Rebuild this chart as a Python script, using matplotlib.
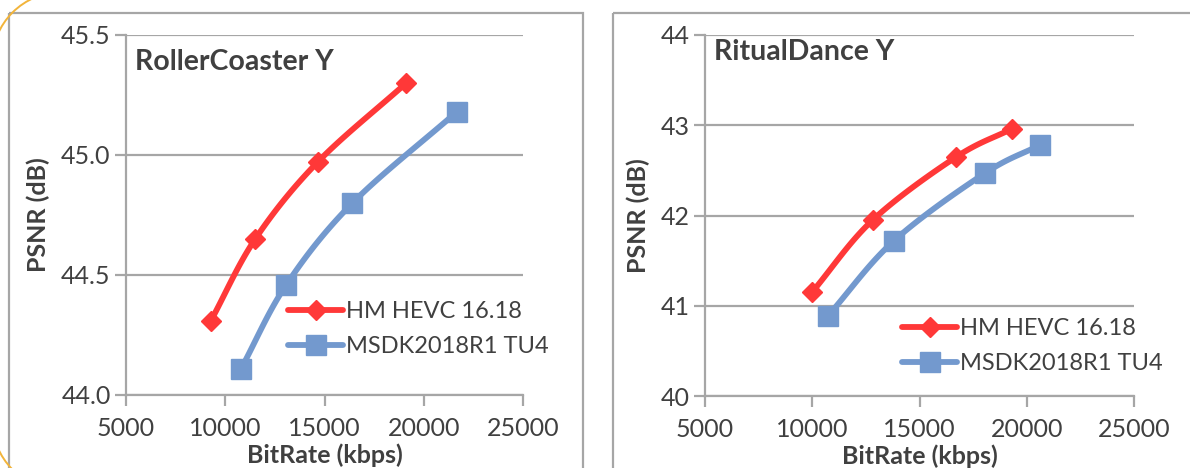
import numpy as np
import matplotlib
matplotlib.use("Agg")
import matplotlib.pyplot as plt
from matplotlib.patches import Rectangle, Arc

# data
names = ["HM HEVC 16.18", "MSDK2018R1 TU4"]

rc_hm_rate = [9280, 11510, 14650, 19120]
rc_hm_psnr = [44.31, 44.65, 44.97, 45.30]
rc_msdk_rate = [10800, 13080, 16410, 21670]
rc_msdk_psnr = [44.11, 44.46, 44.80, 45.18]

rd_hm_rate = [9990, 12820, 16720, 19300]
rd_hm_psnr = [41.15, 41.95, 42.65, 42.96]
rd_msdk_rate = [10740, 13810, 18060, 20610]
rd_msdk_psnr = [40.89, 41.72, 42.47, 42.78]

xticks = [5000, 10000, 15000, 20000, 25000]
rc_yticks = [44.0, 44.5, 45.0, 45.5]
rd_yticks = [40, 41, 42, 43, 44]

red = "#FF3838"
blue = "#7399CE"
grey = "#A6A6A6"
txt = "#404040"

plt.rcParams["font.family"] = ["Lato", "DejaVu Sans"]

W, H = 1190, 468
fig = plt.figure(figsize=(W / 100, H / 100), dpi=100)

# background layer for panel frames
bg = fig.add_axes([0, 0, 1, 1], zorder=-5)
bg.set_xlim(0, W)
bg.set_ylim(H, 0)
bg.axis("off")
bg.add_patch(Rectangle((8.5, 12.5), 574, 470, fill=False, ec=grey, lw=1.6))
bg.add_patch(Rectangle((612.5, 12.5), 600, 470, fill=False, ec=grey, lw=1.6))
bg.add_patch(Arc((62, 62), 140, 140, theta1=180, theta2=270, color="#F2B43A", lw=1.4))
bg.add_patch(Arc((62, 420), 140, 140, theta1=90, theta2=180, color="#F2B43A", lw=1.4))


def smooth(x, y, n=30):
    # catmull-rom curve through the points, like excel's smoothed line
    x = np.asarray(x, float)
    y = np.asarray(y, float)
    px = np.concatenate([[2 * x[0] - x[1]], x, [2 * x[-1] - x[-2]]])
    py = np.concatenate([[2 * y[0] - y[1]], y, [2 * y[-1] - y[-2]]])
    xs, ys = [], []
    t = np.linspace(0, 1, n)
    for i in range(1, len(px) - 2):
        for p, out in ((px, xs), (py, ys)):
            p0, p1, p2, p3 = p[i - 1], p[i], p[i + 1], p[i + 2]
            out.extend(0.5 * (2 * p1 + (-p0 + p2) * t
                              + (2 * p0 - 5 * p1 + 4 * p2 - p3) * t ** 2
                              + (-p0 + 3 * p1 - 3 * p2 + p3) * t ** 3))
    return xs, ys


def panel(rect, title, title_y, hm_x, hm_y, ms_x, ms_y, yticks, yfmt, ylim, leg_anchor):
    ax = fig.add_axes(rect)
    ax.set_xlim(5000, 25000)
    ax.set_ylim(*ylim)
    ax.set_xticks(xticks)
    ax.set_yticks(yticks)
    ax.set_yticklabels([yfmt.format(v) for v in yticks])
    ax.grid(axis="y", color=grey, lw=1.6)
    ax.set_axisbelow(True)
    for s in ["top", "right"]:
        ax.spines[s].set_visible(False)
    for s in ["left", "bottom"]:
        ax.spines[s].set_color(grey)
        ax.spines[s].set_linewidth(1.6)
    ax.tick_params(colors=grey, width=1.6, length=8, labelsize=18,
                   labelcolor=txt, pad=3)
    ax.tick_params(axis="x", pad=8)

    lw = 4.2
    sx, sy = smooth(hm_x, hm_y)
    ax.plot(sx, sy, color=red, lw=lw, solid_capstyle="round", clip_on=False)
    ax.plot(hm_x, hm_y, ls="none", marker="D", ms=10.5, color=red, clip_on=False)
    sx, sy = smooth(ms_x, ms_y)
    ax.plot(sx, sy, color=blue, lw=lw, solid_capstyle="round", clip_on=False)
    ax.plot(ms_x, ms_y, ls="none", marker="s", ms=14, color=blue, clip_on=False)

    h1, = ax.plot([], [], color=red, lw=lw, marker="D", ms=10.5, solid_capstyle="round")
    h2, = ax.plot([], [], color=blue, lw=lw, marker="s", ms=14, solid_capstyle="round")
    ax.legend([h1, h2], names, loc="upper left", bbox_to_anchor=leg_anchor,
              bbox_transform=fig.transFigure, frameon=False, fontsize=17,
              handlelength=2.35, handletextpad=0.12, labelspacing=0.6,
              borderaxespad=0, borderpad=0, labelcolor=txt)

    ax.text(0.022, title_y, title, transform=ax.transAxes, fontsize=20.5,
            fontweight="bold", color=txt, va="top", ha="left")
    ax.set_xlabel("BitRate (kbps)", fontsize=18, fontweight="bold", color=txt,
                  labelpad=2)
    ax.set_ylabel("PSNR (dB)", fontsize=18, fontweight="bold", color=txt,
                  labelpad=8)
    return ax


panel([126 / W, 1 - 395 / H, 397 / W, 360 / H], "RollerCoaster Y", 0.96,
      rc_hm_rate, rc_hm_psnr, rc_msdk_rate, rc_msdk_psnr,
      rc_yticks, "{:.1f}", (44.0, 45.5), (288 / W, 1 - 301 / H))
panel([705 / W, 1 - 396 / H, 429 / W, 361 / H], "RitualDance Y", 0.99,
      rd_hm_rate, rd_hm_psnr, rd_msdk_rate, rd_msdk_psnr,
      rd_yticks, "{:d}", (40, 44), (902 / W, 1 - 318 / H))

fig.savefig("out.png", dpi=100)
